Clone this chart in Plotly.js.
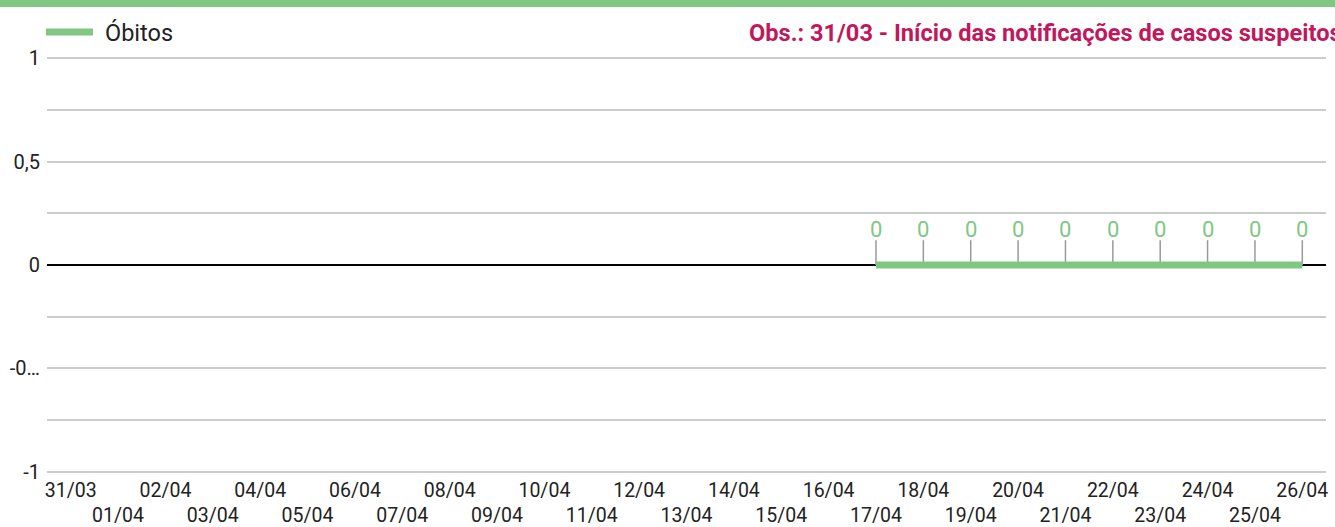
<!DOCTYPE html>
<html>
<head>
<meta charset="utf-8">
<script src="https://cdn.plot.ly/plotly-3.0.1.min.js"></script>
<style>html,body{margin:0;padding:0;background:#fff;}#chart{width:1335px;height:527px;}</style>
</head>
<body>
<div id="chart"></div>
<script>
var categories = ["31/03","01/04","02/04","03/04","04/04","05/04","06/04","07/04","08/04","09/04","10/04","11/04","12/04","13/04","14/04","15/04","16/04","17/04","18/04","19/04","20/04","21/04","22/04","23/04","24/04","25/04","26/04"];
var obitos = [null,null,null,null,null,null,null,null,null,null,null,null,null,null,null,null,null,0,0,0,0,0,0,0,0,0,0];
var seriesName = "Óbitos";
var yTickVals = [-1,-0.5,0,0.5,1];
var yTickText = ["-1","-0…","0","0,5","1"];
var noteText = "Obs.: 31/03 - Início das notificações de casos suspeitos";

var GREEN = "#81c784";
var FONT = "Roboto, 'Noto Sans', sans-serif";

var xTickText = categories.map(function(c, i){ return i % 2 === 0 ? c : "<br>" + c; });

var trace = {
  type: "scatter",
  mode: "lines",
  x: categories,
  y: obitos,
  name: seriesName,
  line: {color: GREEN, width: 7},
  error_y: {type: "data", symmetric: false, array: obitos.map(function(v){ return v === null ? null : 0.12; }), arrayminus: obitos.map(function(){ return 0; }), color: "#999", thickness: 1.5, width: 0},
  hoverinfo: "x+y",
  showlegend: false
};

var annotations = [];
categories.forEach(function(c, i){
  if (obitos[i] !== null) {
    annotations.push({x: c, y: obitos[i], xref: "x", yref: "y", text: String(obitos[i]), showarrow: false, yshift: 36, font: {family: FONT, size: 22, color: GREEN}});
  }
});
annotations.push({xref: "paper", yref: "paper", x: 0.547, y: 1.058, xanchor: "left", yanchor: "middle", text: "<b>" + noteText + "</b>", showarrow: false, font: {family: FONT, size: 23.6, color: "#c2185b"}});
annotations.push({xref: "paper", yref: "paper", x: 0.0438, y: 1.058, xanchor: "left", yanchor: "middle", text: seriesName, showarrow: false, font: {family: FONT, size: 23.5, color: "#222"}});

var layout = {
  width: 1335, height: 527,
  margin: {l: 47, r: 9, t: 57, b: 54},
  paper_bgcolor: "#fff", plot_bgcolor: "#fff",
  font: {family: FONT, size: 20, color: "#222"},
  showlegend: false,
  xaxis: {
    type: "category", categoryorder: "array", categoryarray: categories,
    range: [-0.5, categories.length - 0.5],
    tickmode: "array", tickvals: categories, ticktext: xTickText,
    tickangle: 0,
    showgrid: false, zeroline: false, showline: false, ticks: "",
    ticklabelstandoff: 3,
    tickfont: {family: FONT, size: 19.5, color: "#222"}
  },
  yaxis: {
    range: [-1.006, 1.006],
    tickmode: "array", tickvals: yTickVals, ticktext: yTickText,
    showgrid: true, gridcolor: "#cccccc", gridwidth: 2,
    minor: {dtick: 0.25, showgrid: true, gridcolor: "#cccccc", gridwidth: 2, ticks: ""},
    zeroline: true, zerolinecolor: "#000", zerolinewidth: 2.5,
    showline: false, ticks: "",
    ticklabelstandoff: 6,
    tickfont: {family: FONT, size: 20, color: "#222"}
  },
  shapes: [
    {type: "rect", xref: "paper", yref: "paper", x0: -0.1, x1: 1.1, ysizemode: "pixel", yanchor: 1, y0: 50, y1: 58, fillcolor: GREEN, line: {width: 0}},
    {type: "line", xref: "paper", yref: "paper", xsizemode: "pixel", xanchor: 0, x0: -1, x1: 46, ysizemode: "pixel", yanchor: 1, y0: 25, y1: 25, line: {color: GREEN, width: 7}}
  ],
  annotations: annotations
};

Plotly.newPlot("chart", [trace], layout, {displayModeBar: false, staticPlot: true});
</script>
</body>
</html>
